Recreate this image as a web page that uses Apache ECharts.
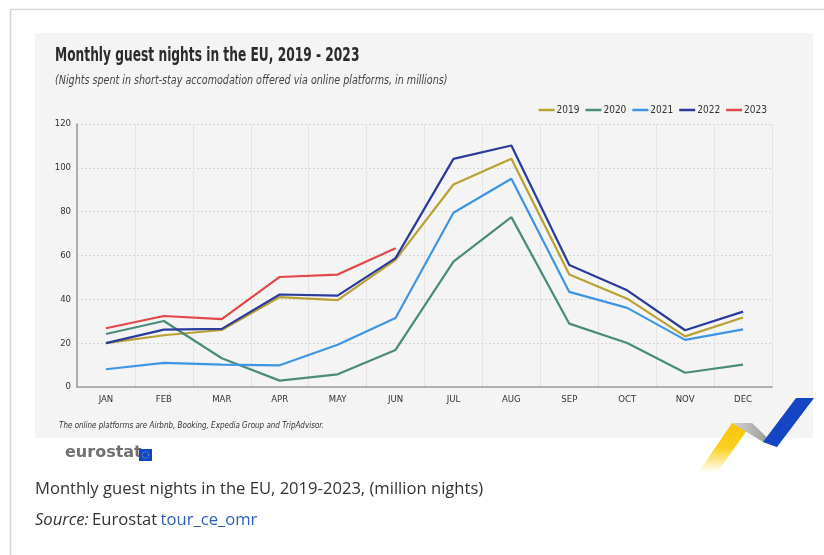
<!DOCTYPE html>
<html>
<head>
<meta charset="utf-8">
<script src="https://cdn.jsdelivr.net/npm/echarts@6/dist/echarts.min.js"></script>
<style>
html,body{margin:0;padding:0;background:#fff;}
#c{width:824px;height:555px;}
</style>
</head>
<body>
<div id="c"></div>
<script>
const months = ['JAN','FEB','MAR','APR','MAY','JUN','JUL','AUG','SEP','OCT','NOV','DEC'];
const years = ['2019','2020','2021','2022','2023'];
const v2019 = [20, 23.6, 26, 41, 39.6, 58, 92.4, 104.1, 51.3, 40.3, 23.1, 31.7];
const v2020 = [24.2, 30.1, 13.1, 2.9, 5.8, 16.9, 57.2, 77.5, 28.9, 20.1, 6.5, 10.2];
const v2021 = [8.1, 11.0, 10.2, 9.9, 19.3, 31.5, 79.5, 95, 43.4, 36.1, 21.5, 26.3];
const v2022 = [20, 26.2, 26.5, 42.2, 41.7, 58.8, 104.1, 110.2, 55.7, 44.1, 25.9, 34.4];
const v2023 = [26.8, 32.4, 31.0, 50.2, 51.3, 63.3];
const colors = ['#b9a132', '#4b8b79', '#3d95e3', '#2a3b9b', '#e2474a'];
const yTicks = [0, 20, 40, 60, 80, 100, 120];

const narrow = '"Liberation Sans Narrow","DejaVu Sans Condensed",sans-serif';
const seriesData = [v2019, v2020, v2021, v2022, v2023];

const chart = echarts.init(document.getElementById('c'), null, {renderer: 'canvas'});
chart.setOption({
  backgroundColor: '#ffffff',
  animation: false,
  graphic: [
    {type: 'line', shape: {x1: 10, y1: 9.5, x2: 824, y2: 9.5}, style: {stroke: '#d8d8d8', lineWidth: 1.5}, z: -10},
    {type: 'line', shape: {x1: 10.5, y1: 9, x2: 10.5, y2: 555}, style: {stroke: '#d8d8d8', lineWidth: 1.5}, z: -10},
    {type: 'rect', shape: {x: 35, y: 33, width: 778, height: 405}, style: {fill: '#f4f4f4'}, z: -10},
    {type: 'text', x: 55, y: 46, scaleX: 0.68, style: {text: 'Monthly guest nights in the EU, 2019 - 2023', font: 'bold 20px ' + narrow, fill: '#2b2b2b'}},
    {type: 'text', x: 55, y: 75, scaleX: 0.925, style: {text: '(Nights spent in short-stay accomodation offered via online platforms, in millions)', font: 'italic 11.5px ' + narrow, fill: '#444'}},
    {type: 'text', x: 59, y: 421, scaleX: 0.84, style: {text: 'The online platforms are Airbnb, Booking, Expedia Group and TripAdvisor.', font: 'italic 9.5px ' + narrow, fill: '#333'}},
    {type: 'text', x: 65, y: 445, style: {text: 'eurostat', font: 'bold 16px "DejaVu Sans","Liberation Sans",sans-serif', fill: '#707070'}},
    {type: 'rect', shape: {x: 139, y: 449, width: 13, height: 12}, style: {fill: '#1046c8'}},
    {type: 'circle', shape: {cx: 145.5, cy: 455, r: 3.2}, style: {fill: 'none', stroke: '#e8d44a', lineWidth: 0.8, lineDash: [1, 1]}},
    {type: 'text', x: 35, y: 481, style: {text: 'Monthly guest nights in the EU, 2019-2023, (million nights)', font: '16.6px "Open Sans",sans-serif', fill: '#333'}},
    {type: 'text', x: 35, y: 512, style: {rich: {i: {font: 'italic 16.6px "Open Sans",sans-serif', fill: '#333'}, n: {font: '16.6px "Open Sans",sans-serif', fill: '#333'}, l: {font: '16.6px "Open Sans",sans-serif', fill: '#2d5fb5'}}, text: '{i|Source:} {n|Eurostat} {l|tour_ce_omr}'}},
    {type: 'polygon', shape: {points: [[698, 473], [717, 473], [752, 423], [732, 423]]},
      style: {fill: new echarts.graphic.LinearGradient(0, 1, 0, 0, [{offset: 0, color: 'rgba(250,210,40,0)'}, {offset: 0.5, color: 'rgba(250,205,20,0.95)'}, {offset: 1, color: '#f7c600'}])}},
    {type: 'polygon', shape: {points: [[732, 423], [752, 423], [777, 447], [763, 442]]},
      style: {fill: new echarts.graphic.LinearGradient(0, 0, 1, 0, [{offset: 0, color: '#d4d4d4'}, {offset: 1, color: '#8c8c8c'}])}},
    {type: 'polygon', shape: {points: [[763, 442], [777, 447], [814, 398], [796, 398]]},
      style: {fill: '#1446c4'}}
  ],
  color: colors,
  legend: {
    right: 52, top: 100,
    itemWidth: 16, itemHeight: 2.5, itemGap: 6,
    icon: 'rect',
    textStyle: {fontFamily: narrow, fontSize: 10, color: '#333', padding: [0, 0, 0, -3]},
    data: years
  },
  grid: {left: 77, right: 52, top: 124, bottom: 168},
  xAxis: {
    type: 'category',
    data: months,
    boundaryGap: true,
    axisLine: {lineStyle: {color: '#9a9a9a', width: 1.5, type: [3, 1]}},
    axisTick: {show: false},
    splitLine: {show: true, lineStyle: {color: '#e4e4e4', width: 1}},
    axisLabel: {fontFamily: narrow, fontSize: 9.5, color: '#333', margin: 8}
  },
  yAxis: {
    type: 'value',
    min: yTicks[0], max: yTicks[yTicks.length - 1], interval: 20,
    axisLine: {show: true, lineStyle: {color: '#9a9a9a', width: 1.5}},
    axisTick: {show: false},
    splitLine: {lineStyle: {color: '#d6d6d6', type: [2, 2]}},
    axisLabel: {fontFamily: narrow, fontSize: 9.5, color: '#333', margin: 6}
  },
  series: years.map((y, i) => ({
    name: y,
    type: 'line',
    data: seriesData[i],
    showSymbol: false,
    symbol: 'none',
    lineStyle: {width: 2.2},
    z: i === 4 ? 5 : 3 + (i === 3 ? 1 : 0)
  }))
});
</script>
</body>
</html>
